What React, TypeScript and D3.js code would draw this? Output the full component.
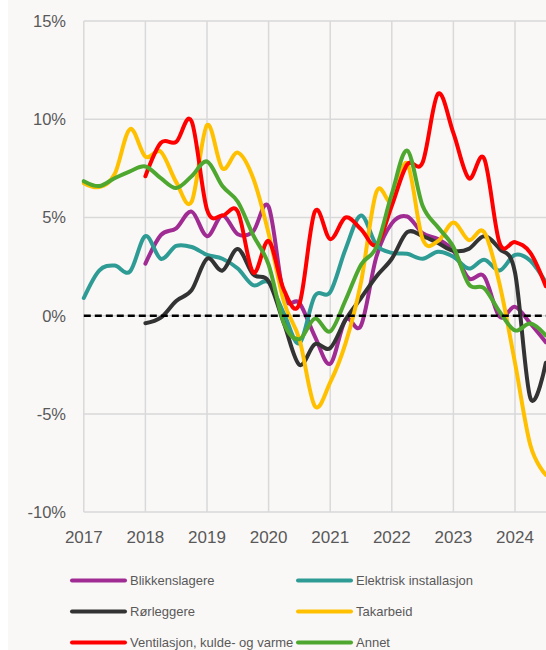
import React from 'react';
import * as d3 from 'd3';

// quarterly values, first point = 2017 Q1 (null = no data yet)
const quarters = d3.range(31).map(i => 2017 + i / 4);

const blikkenslagere = [null, null, null, null, 2.65, 4.1, 4.45, 5.3, 4.05, 5.1, 4.15, 4.3, 5.55, 1.0, 0.65, -1.05, -2.45, -0.2, -0.5, 3.0, 4.7, 5.05, 4.2, 3.9, 3.3, 1.9, 2.0, -0.05, 0.45, -0.4, -1.35];
const elektrisk = [0.9, 2.3, 2.55, 2.25, 4.05, 2.9, 3.55, 3.5, 3.1, 2.9, 2.4, 1.55, 1.7, 0.1, -1.4, 1.0, 1.2, 3.4, 5.1, 3.6, 3.2, 3.15, 2.9, 3.25, 3.0, 2.4, 2.85, 2.3, 3.1, 2.8, 1.7];
const rorleggere = [null, null, null, null, -0.38, -0.1, 0.75, 1.3, 2.9, 2.3, 3.4, 2.1, 1.75, -0.4, -2.5, -1.45, -1.65, -0.2, 0.9, 2.0, 2.9, 4.25, 4.05, 3.7, 3.3, 3.4, 4.05, 3.4, 2.2, -4.2, -2.4];
const takarbeid = [6.75, 6.55, 7.2, 9.5, 8.1, 8.35, 6.8, 5.8, 9.7, 7.5, 8.3, 7.0, 4.2, 0.7, -1.2, -4.6, -3.4, -1.4, 1.7, 6.3, 5.8, 7.75, 3.9, 3.8, 4.75, 3.85, 4.25, 1.6, -2.4, -6.6, -8.1];
const ventilasjon = [null, null, null, null, 7.1, 8.8, 8.85, 9.9, 5.4, 5.1, 5.3, 2.2, 3.8, 1.3, 0.6, 5.3, 3.9, 5.0, 4.4, 3.6, 5.6, 7.7, 7.8, 11.3, 9.3, 7.0, 8.0, 3.7, 3.75, 3.2, 1.5];
const annet = [6.85, 6.6, 7.0, 7.35, 7.6, 7.0, 6.5, 7.1, 7.85, 6.6, 5.8, 4.1, 2.6, -0.4, -1.2, -0.15, -0.8, 0.8, 2.6, 3.5, 6.2, 8.4, 5.6, 4.5, 3.5, 1.6, 1.4, 0.2, -0.75, -0.4, -1.0];

const seriesNames = ['Blikkenslagere', 'Elektrisk installasjon', 'Rørleggere', 'Takarbeid', 'Ventilasjon, kulde- og varme', 'Annet'];
const seriesValues = [blikkenslagere, elektrisk, rorleggere, takarbeid, ventilasjon, annet];
const seriesColors = ['#A02B93', '#2E9C94', '#333333', '#FFC000', '#FF0000', '#4EA72E'];

const yTicks = [-10, -5, 0, 5, 10, 15];
const xTicks = [2017, 2018, 2019, 2020, 2021, 2022, 2023, 2024];

const W = 546;
const H = 650;
const font = '"Liberation Sans", Arial, sans-serif';

const x = d3.scaleLinear().domain([2017, 2025]).range([83.8, 83.8 + 8 * 61.6]);
const y = d3.scaleLinear().domain([-10, 15]).range([512.1, 21.1]);

const line = d3.line<[number, number | null]>()
  .defined(d => d[1] !== null)
  .x(d => x(d[0]))
  .y(d => y(d[1] as number))
  .curve(d3.curveCardinal.tension(0));

export default function App() {
  const plotRight = W;
  return (
    <svg width={W} height={H} style={{ position: 'absolute', left: 0, top: 0, display: 'block' }}>
      <rect x={8} y={0} width={W - 8} height={H} fill="#F9F8F7" />

      {/* grid */}
      {yTicks.map(t => (
        <line key={'gy' + t} x1={x(2017)} x2={plotRight} y1={y(t)} y2={y(t)} stroke="#D9D9D9" strokeWidth={1.5} />
      ))}
      {xTicks.map(t => (
        <line key={'gx' + t} x1={x(t)} x2={x(t)} y1={y(15)} y2={y(-10)} stroke="#D9D9D9" strokeWidth={1.5} />
      ))}

      {/* y labels */}
      {yTicks.map(t => (
        <text key={'ly' + t} x={66} y={y(t)} dy="0.36em" textAnchor="end" fontSize={16.5} fill="#595959" fontFamily={font}>
          {t + '%'}
        </text>
      ))}
      {/* x labels */}
      {xTicks.map(t => (
        <text key={'lx' + t} x={x(t)} y={543} textAnchor="middle" fontSize={17} fill="#595959" fontFamily={font}>
          {t}
        </text>
      ))}

      {/* series */}
      {seriesValues.map((vals, k) => (
        <path
          key={seriesNames[k]}
          d={line(quarters.map((q, i) => [q, vals[i]] as [number, number | null])) || ''}
          fill="none"
          stroke={seriesColors[k]}
          strokeWidth={4}
          strokeLinecap="round"
          strokeLinejoin="round"
        />
      ))}

      {/* zero line */}
      <line x1={x(2017)} x2={plotRight} y1={y(0)} y2={y(0)} stroke="#000" strokeWidth={2.4} strokeDasharray="7,4" />

      {/* legend */}
      {seriesNames.map((name, k) => {
        const col = k % 2;
        const row = Math.floor(k / 2);
        const lx = col === 0 ? 72 : 298;
        const ly = 580.5 + row * 31;
        return (
          <g key={'lg' + name}>
            <line x1={lx} x2={lx + 53} y1={ly} y2={ly} stroke={seriesColors[k]} strokeWidth={4} strokeLinecap="round" />
            <text x={lx + 58} y={ly} dy="0.36em" fontSize={13} fill="#595959" fontFamily={font}>
              {name}
            </text>
          </g>
        );
      })}
    </svg>
  );
}
